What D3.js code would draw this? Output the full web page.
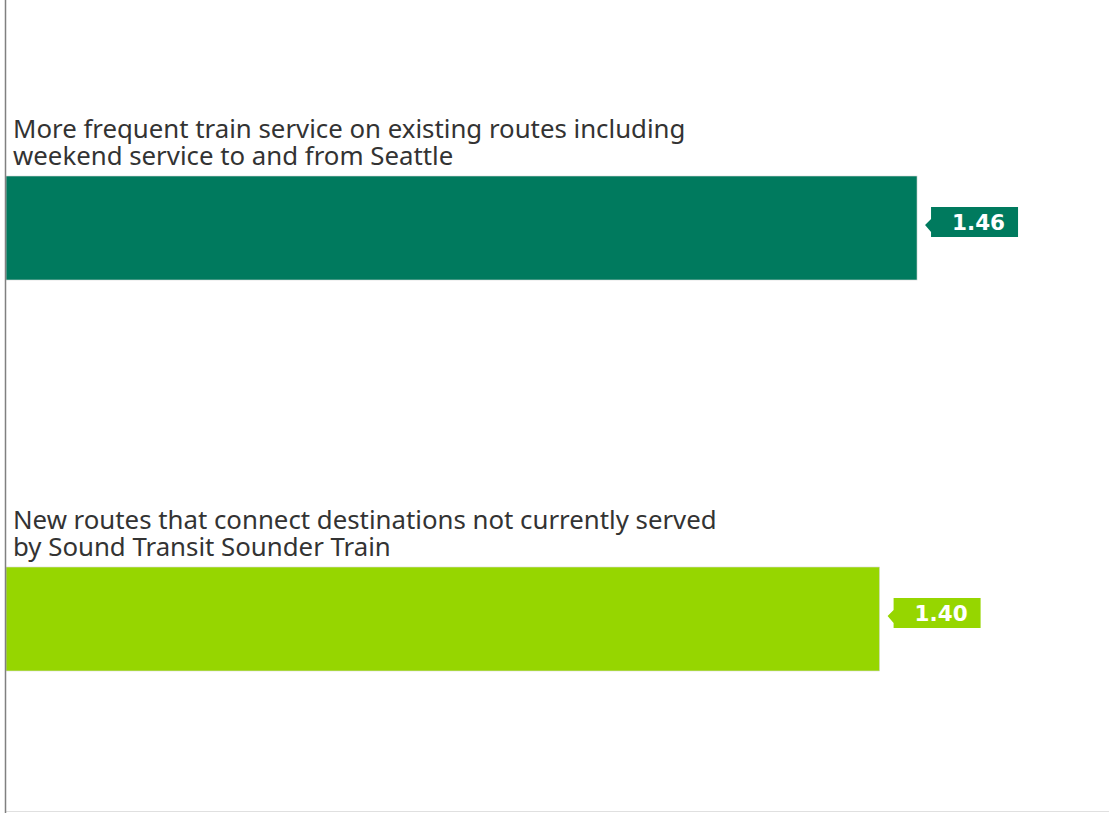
<!DOCTYPE html>
<html>
<head>
<meta charset="utf-8">
<script src="https://cdn.jsdelivr.net/npm/d3@7"></script>
<style>
  html, body { margin: 0; padding: 0; background: #fff; }
  svg { display: block; }
</style>
</head>
<body>
<svg id="chart" width="1109" height="813"></svg>
<script>
// chart data
const categories = ["frequent", "newRoutes"];
const labelLines = [
  ["More frequent train service on existing routes including", "weekend service to and from Seattle"],
  ["New routes that connect destinations not currently served", "by Sound Transit Sounder Train"]
];
const values = [1.46, 1.40];
const valueLabels = ["1.46", "1.40"];
const colors = ["#007a5e", "#96d600"];

const width = 1109, height = 813;
const svg = d3.select("#chart");

//x scale: value -> horizontal pixel
const x = d3.scaleLinear().domain([0, 1.75]).range([6, 6 + 1.75 * 624]);

//y scale: one band per category
const y = d3.scaleBand().domain(categories).range([176, 671]).paddingInner(0.734).paddingOuter(0);

//bottom border line
svg.append("line")
  .attr("x1", 5).attr("x2", width)
  .attr("y1", height - 1.5).attr("y2", height - 1.5)
  .attr("stroke", "#e0e0e0").attr("stroke-width", 1);

//bars
svg.selectAll("rect.bar")
  .data(categories)
  .join("rect")
  .attr("class", "bar")
  .attr("x", x(0))
  .attr("y", d => y(d))
  .attr("width", (d, i) => x(values[i]) - x(0))
  .attr("height", y.bandwidth())
  .attr("fill", (d, i) => colors[i])
  .attr("stroke", "#d9d9d9")
  .attr("stroke-width", 0.6);

//category labels above each bar (two lines)
categories.forEach((c, i) => {
  const g = svg.append("g")
    .attr("transform", "translate(13," + (y(c) - 38) + ")");
  g.selectAll("text")
    .data(labelLines[i])
    .join("text")
    .attr("x", 0)
    .attr("y", (d, j) => j * 27)
    .attr("font-family", "'Noto Sans', 'DejaVu Sans', sans-serif")
    .attr("font-size", 25.8)
    .attr("fill", "#333")
    .text(d => d);
});

//value callouts: a small box with a notch pointing at the bar end
categories.forEach((c, i) => {
  const xEnd = x(values[i]);
  const cy = y(c) + y.bandwidth() / 2;
  const bx = xEnd + 14, bw = 87, by = cy - 21, bh = 30;
  const tip = {x: xEnd + 8, y: by + 18};
  const d = "M" + bx + " " + by +
    "H" + (bx + bw) + "V" + (by + bh) + "H" + bx +
    "V" + (by + 25) + "L" + tip.x + " " + tip.y + "L" + bx + " " + (by + 12) + "Z";
  svg.append("path").attr("d", d).attr("fill", colors[i]);
  svg.append("text")
    .attr("x", bx + bw / 2 + 4)
    .attr("y", by + bh - 7)
    .attr("text-anchor", "middle")
    .attr("font-family", "Verdana, 'DejaVu Sans', sans-serif")
    .attr("font-weight", "bold")
    .attr("font-size", 21.5)
    .attr("fill", "#fff")
    .text(valueLabels[i]);
});

//vertical axis line on the left
svg.append("line")
  .attr("x1", 5.5).attr("x2", 5.5)
  .attr("y1", 0).attr("y2", height)
  .attr("stroke", "#808080").attr("stroke-width", 1.5);
</script>
</body>
</html>
